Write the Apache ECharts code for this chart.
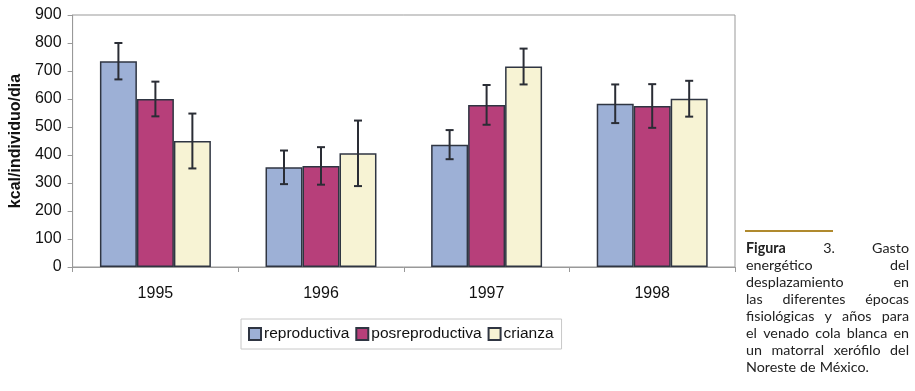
<!DOCTYPE html>
<html>
<head>
<meta charset="utf-8">
<script src="https://cdn.jsdelivr.net/npm/echarts@6/dist/echarts.min.js"></script>
<style>
html,body{margin:0;padding:0;background:#fff;}
#chart{width:915px;height:391px;}
</style>
</head>
<body>
<div id="chart"></div>
<script>
var years = ['1995', '1996', '1997', '1998'];
var seriesNames = ['reproductiva', 'posreproductiva', 'crianza'];
var reproductiva = [735, 356, 437, 583];
var posreproductiva = [600, 361, 579, 575];
var crianza = [450, 406, 716, 601];
// +/- error (kcal)
var reproductivaErr = [65, 60, 52, 69];
var posreproductivaErr = [62, 67, 71, 78];
var crianzaErr = [98, 117, 64, 64];
var yTicks = [0, 100, 200, 300, 400, 500, 600, 700, 800, 900];
var captionLines = [
	['Figura', '3.', 'Gasto'],
	['energético', 'del'],
	['desplazamiento', 'en'],
	['las', 'diferentes', 'épocas'],
	['fisiológicas', 'y', 'años', 'para'],
	['el', 'venado', 'cola', 'blanca', 'en'],
	['un', 'matorral', 'xerófilo', 'del'],
	['Noreste', 'de', 'México.']
];

var colors = ['#9db0d6', '#b73f7a', '#f7f3d4'];
var values = [reproductiva, posreproductiva, crianza];
var errs = [reproductivaErr, posreproductivaErr, crianzaErr];
var gapRatio = 0.33;

var myChart = echarts.init(document.getElementById('chart'));

function errorBars(k) {
	return function (params, api) {
		var idx = api.value(0);
		var hi = api.coord([idx, api.value(2)]);
		var lo = api.coord([idx, api.value(1)]);
		var bw = api.size([1, 0])[0] * (1 - gapRatio) / 3;
		var x = hi[0] + (k - 1) * bw;
		var cap = 4;
		var style = {stroke: '#2a2d35', lineWidth: 2};
		return {
			type: 'group',
			children: [
				{type: 'line', shape: {x1: x, y1: hi[1], x2: x, y2: lo[1]}, style: style},
				{type: 'line', shape: {x1: x - cap, y1: hi[1], x2: x + cap, y2: hi[1]}, style: style},
				{type: 'line', shape: {x1: x - cap, y1: lo[1], x2: x + cap, y2: lo[1]}, style: style}
			]
		};
	};
}

var series = [];
seriesNames.forEach(function (name, k) {
	series.push({
		name: name,
		type: 'bar',
		barGap: '0%',
		barCategoryGap: (gapRatio * 100) + '%',
		itemStyle: {color: colors[k], borderColor: '#2f3542', borderWidth: 1.5},
		data: values[k]
	});
});
seriesNames.forEach(function (name, k) {
	series.push({
		type: 'custom',
		renderItem: errorBars(k),
		encode: {x: 0, y: [1, 2]},
		z: 5,
		data: values[k].map(function (v, i) { return [i, v - errs[k][i], v + errs[k][i]]; })
	});
});

// caption, justified word by word
var ctx = document.createElement('canvas').getContext('2d');
var capLeft = 746, capRight = 909, capTop = 248, lineH = 17;
var capFont = '14.3px Lato';
var graphic = [{
	type: 'rect',
	shape: {x: 745, y: 230, width: 88, height: 2},
	style: {fill: '#b08a2e'}
}];
captionLines.forEach(function (words, li) {
	var last = li === captionLines.length - 1;
	var widths = words.map(function (w, wi) {
		ctx.font = (li === 0 && wi === 0 ? 'bold ' : '') + capFont;
		return ctx.measureText(w).width;
	});
	var total = widths.reduce(function (a, b) { return a + b; }, 0);
	var gap = last ? 4 : (capRight - capLeft - total) / (words.length - 1);
	var x = capLeft;
	words.forEach(function (w, wi) {
		graphic.push({
			type: 'text',
			x: x,
			y: capTop + li * lineH,
			style: {
				text: w,
				fill: '#222',
				font: (li === 0 && wi === 0 ? 'bold ' : '') + capFont,
				textVerticalAlign: 'middle'
			}
		});
		x += widths[wi] + gap;
	});
});

var option = {
	animation: false,
	textStyle: {fontFamily: 'Liberation Sans'},
	grid: {
		left: 69, right: 180, top: 15, bottom: 124,
		show: true, borderColor: '#999', borderWidth: 1
	},
	legend: {
		data: seriesNames,
		left: 241,
		top: 319,
		padding: [7, 8, 7, 7],
		itemGap: 6,
		itemWidth: 12,
		itemHeight: 12,
		icon: 'rect',
		borderColor: '#c8c8c8',
		borderWidth: 1,
		textStyle: {fontSize: 15.5, color: '#111', fontFamily: 'Liberation Sans', padding: [0, 0, 0, -2]}
	},
	xAxis: {
		type: 'category',
		data: years,
		axisLine: {lineStyle: {color: '#999'}},
		axisTick: {show: true, length: 5, lineStyle: {color: '#999'}},
		axisLabel: {fontSize: 16, color: '#111', margin: 19}
	},
	yAxis: {
		type: 'value',
		min: yTicks[0],
		max: yTicks[yTicks.length - 1],
		interval: 100,
		name: 'kcal/individuo/dia',
		nameLocation: 'middle',
		nameGap: 46,
		nameTextStyle: {fontSize: 16, fontWeight: 'bold', color: '#111'},
		axisLine: {show: true, lineStyle: {color: '#999'}},
		axisTick: {show: true, length: 5, lineStyle: {color: '#999'}},
		axisLabel: {fontSize: 16, color: '#111', margin: 11},
		splitLine: {show: false}
	},
	graphic: graphic,
	series: series
};
myChart.setOption(option);
</script>
</body>
</html>
